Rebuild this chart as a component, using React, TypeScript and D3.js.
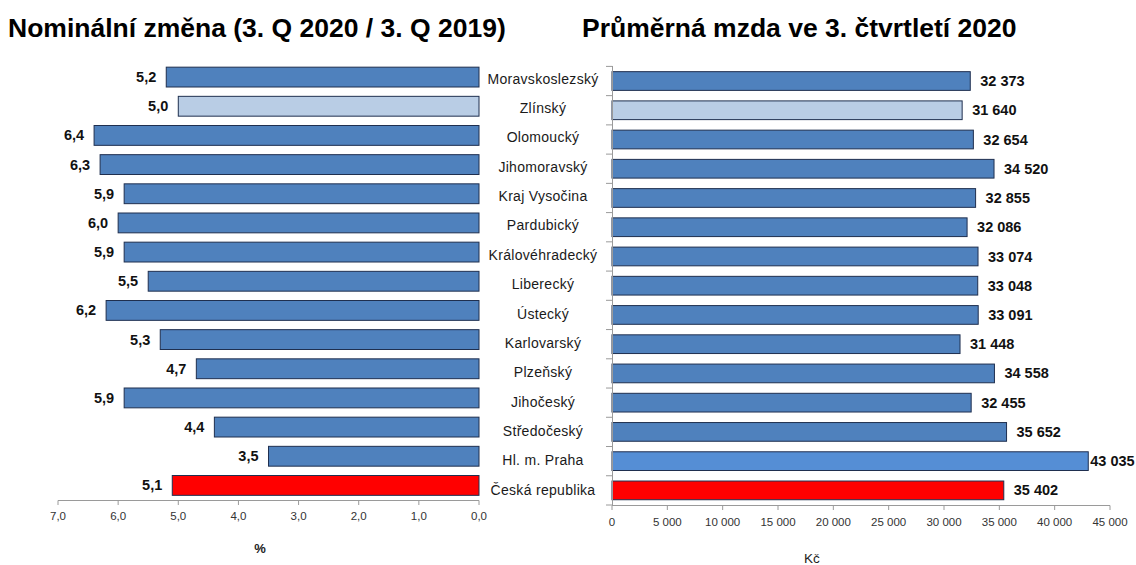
import React from "react";
import * as d3 from "d3";

const categories = [
  "Moravskoslezský",
  "Zlínský",
  "Olomoucký",
  "Jihomoravský",
  "Kraj Vysočina",
  "Pardubický",
  "Královéhradecký",
  "Liberecký",
  "Ústecký",
  "Karlovarský",
  "Plzeňský",
  "Jihočeský",
  "Středočeský",
  "Hl. m. Praha",
  "Česká republika",
];

const nominalChange = [5.2, 5.0, 6.4, 6.3, 5.9, 6.0, 5.9, 5.5, 6.2, 5.3, 4.7, 5.9, 4.4, 3.5, 5.1];

const averageWage = [32373, 31640, 32654, 34520, 32855, 32086, 33074, 33048, 33091, 31448, 34558, 32455, 35652, 43035, 35402];

const leftTicks = [7, 6, 5, 4, 3, 2, 1, 0];
const rightTicks = [0, 5000, 10000, 15000, 20000, 25000, 30000, 35000, 40000, 45000];

const titleLeft = "Nominální změna (3. Q 2020 / 3. Q 2019)";
const titleRight = "Průměrná mzda ve 3. čtvrtletí 2020";

const BLUE = "#4F81BD";
const LIGHT = "#B9CDE5";
const RED = "#FF0000";
const PRAHA = "#558ED5";
const STROKE = "#1F2F4F";

function fillFor(c: string) {
  if (c === "Zlínský") return LIGHT;
  if (c === "Česká republika") return RED;
  if (c === "Hl. m. Praha") return PRAHA;
  return BLUE;
}

const fmtComma = (v: number) => v.toFixed(1).replace(".", ",");
const fmtSpace = (v: number) => {
  const s = String(Math.round(v));
  return s.replace(/\B(?=(\d{3})+(?!\d))/g, " ");
};

export default function App() {
  const W = 1136, H = 565;
  const xL = d3.scaleLinear().domain([7, 0]).range([58, 479]);
  const yL = d3.scaleBand<string>().domain(categories).range([62.5, 500]).paddingInner(0.32).paddingOuter(0.16);
  const xR = d3.scaleLinear().domain([0, 45000]).range([612, 1110]);
  const yR = d3.scaleBand<string>().domain(categories).range([66.4, 505]).paddingInner(0.36).paddingOuter(0.18);
  const yBand = d3.scaleBand<string>().domain(categories).range([64, 504.5]);

  const font = "Arial, 'Liberation Sans', sans-serif";
  const labelW = 45;

  return (
    <svg width={W} height={H} style={{ position: "absolute", left: 0, top: 0, background: "#fff" }} fontFamily={font}>
      <text x={8} y={37} fontSize={26.5} fontWeight="bold" fill="#000">{titleLeft}</text>
      <text x={582} y={37} fontSize={26.5} fontWeight="bold" fill="#000">{titleRight}</text>

      {/* Left chart */}
      {categories.map((c, i) => {
        const v = nominalChange[i];
        const x0 = xL(v);
        const y = yL(c)!;
        return (
          <g key={"l" + c}>
            <rect x={x0} y={y} width={xL(0) - x0} height={yL.bandwidth()} fill={fillFor(c) === PRAHA ? BLUE : fillFor(c)} stroke={STROKE} strokeWidth={1} />
            <text x={x0 - 10} y={y + yL.bandwidth() / 2} dy="0.35em" textAnchor="end" fontSize={14.5} fontWeight="bold" fill="#111">{fmtComma(v)}</text>
          </g>
        );
      })}
      <line x1={xL(7)} x2={xL(0)} y1={500.5} y2={500.5} stroke="#9a9a9a" />
      {leftTicks.map((t) => (
        <g key={"lt" + t}>
          <line x1={xL(t)} x2={xL(t)} y1={500.5} y2={505} stroke="#9a9a9a" />
          <text x={xL(t)} y={516} dy="0.35em" textAnchor="middle" fontSize={11.5} fill="#333">{fmtComma(t)}</text>
        </g>
      ))}
      <text x={260} y={548} dy="0.35em" textAnchor="middle" fontSize={13} fontWeight="bold" fill="#222">%</text>

      {/* Category labels */}
      {categories.map((c) => (
        <text key={"c" + c} x={543} y={yBand(c)! + yBand.bandwidth() / 2} dy="0.35em" textAnchor="middle" fontSize={14} letterSpacing={0.3} fill="#1a1a1a">{c}</text>
      ))}

      {/* Right chart */}
      {categories.map((c, i) => {
        const v = averageWage[i];
        const y = yR(c)!;
        const x1 = xR(v);
        const gap = x1 + 10 + labelW > W - 1 ? 2 : 10;
        return (
          <g key={"r" + c}>
            <rect x={xR(0)} y={y} width={x1 - xR(0)} height={yR.bandwidth()} fill={fillFor(c)} stroke={STROKE} strokeWidth={1} />
            <text x={x1 + gap} y={y + yR.bandwidth() / 2} dy="0.35em" fontSize={14.5} fontWeight="bold" fill="#111">{fmtSpace(v)}</text>
          </g>
        );
      })}
      <line x1={612.5} x2={612.5} y1={66} y2={505} stroke="#9a9a9a" />
      {d3.range(categories.length + 1).map((i) => {
        const y = 66.4 + (i * (505 - 66.4)) / categories.length;
        return <line key={"yt" + i} x1={606} x2={612.5} y1={y} y2={y} stroke="#9a9a9a" />;
      })}
      <line x1={612} x2={xR(45000)} y1={505.5} y2={505.5} stroke="#9a9a9a" />
      {rightTicks.map((t) => (
        <g key={"rt" + t}>
          <line x1={xR(t)} x2={xR(t)} y1={505.5} y2={510} stroke="#9a9a9a" />
          <text x={xR(t)} y={522} dy="0.35em" textAnchor="middle" fontSize={11.5} fill="#333">{fmtSpace(t)}</text>
        </g>
      ))}
      <text x={812} y={558} dy="0.35em" textAnchor="middle" fontSize={13.5} fill="#222">Kč</text>
    </svg>
  );
}
